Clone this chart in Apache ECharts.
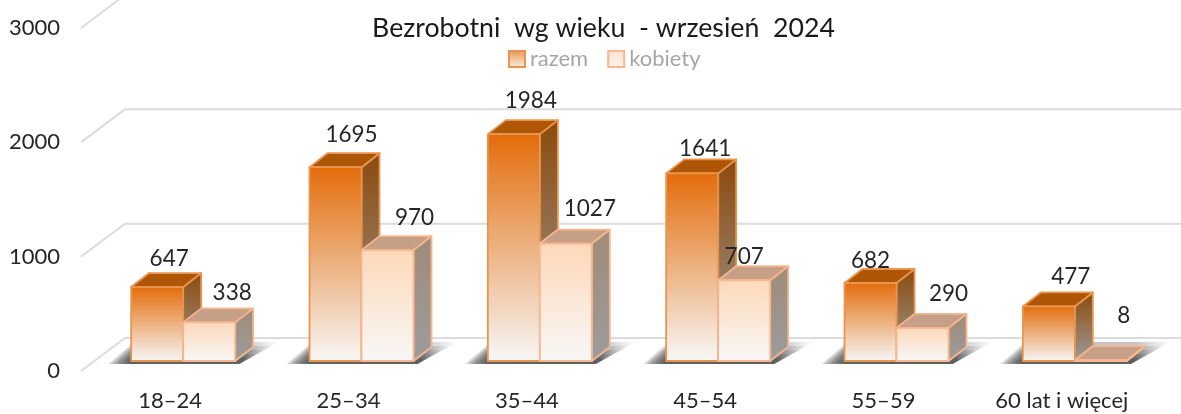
<!DOCTYPE html>
<html>
<head>
<meta charset="utf-8">
<style>html,body{margin:0;padding:0;background:#fff}#c{width:1181px;height:414px}</style>
<script src="https://cdn.jsdelivr.net/npm/echarts@6/dist/echarts.min.js"></script>
</head>
<body>
<div id="c"></div>
<script>
var categories = ['18–24', '25–34', '35–44', '45–54', '55–59', '60 lat i więcej'];
var razem = [647, 1695, 1984, 1641, 682, 477];
var kobiety = [338, 970, 1027, 707, 290, 8];
var yTicks = [0, 1000, 2000, 3000];

// label offset from the front-top centre of each bar [dx, dy]
var razemLabelNudge = [[12, -28], [16, -32], [17, -33], [13, -25], [0, -22], [22, -30]];
var kobietyLabelNudge = [[23, -30], [27, -32], [24, -35], [0, -23], [26, -34], [23, -44]];

var FONT = 'Lato, "Open Sans", sans-serif';
var PLANE = [13, -10], DEPTH = [18, -14], WALL = [44, -33], BAR_RATIO = 52 / 178.33;

function grad(a, b) {
  return new echarts.graphic.LinearGradient(0, 0, 0, 1, [{offset: 0, color: a}, {offset: 1, color: b}]);
}
var styleR = {border: '#E8954F', front: ['#E36C0A', '#F7F7F7'], side: ['#8C4A0C', '#9C9C9C'], top: '#AE5606'};
var styleK = {border: '#F7B690', front: ['#FDD8B8', '#F8F8F8'], side: ['#A18B78', '#9C9C9C'], top: '#C5A087'};

function barRenderer(st, idxSide, nudges) {
  return function (params, api) {
    var i = api.value(0), v = api.value(1);
    var band = api.size([1, 0])[0], w = band * BAR_RATIO;
    var top = api.coord([i, v]), base = api.coord([i, 0]);
    var x0 = top[0] + PLANE[0] + (idxSide === 0 ? -w : 0), x1 = x0 + w;
    var yT = top[1] + PLANE[1], yB = base[1] + PLANE[1];
    var dx = DEPTH[0], dy = DEPTH[1];
    var line = {stroke: st.border, lineWidth: 1.8, lineJoin: 'round'};
    var n = nudges[i];
    var children = [
      {type: 'polygon', shape: {points: [[x1, yT], [x1 + dx, yT + dy], [x1 + dx, yB + dy], [x1, yB]]},
        style: Object.assign({fill: grad(st.side[0], st.side[1])}, line)},
      {type: 'polygon', shape: {points: [[x0, yT], [x0 + dx, yT + dy], [x1 + dx, yT + dy], [x1, yT]]},
        style: Object.assign({fill: st.top}, line)},
      {type: 'rect', shape: {x: x0, y: yT, width: w, height: Math.max(yB - yT, 0.5)},
        style: Object.assign({fill: v > 50 ? grad(st.front[0], st.front[1]) : st.border}, line)},
      {type: 'text', style: {text: String(v), x: (x0 + x1) / 2 + n[0], y: yT + n[1], textAlign: 'center',
        textVerticalAlign: 'middle', fill: '#262626', font: '22.5px ' + FONT}}
    ];
    return {type: 'group', children: children};
  };
}

function shadowRenderer(params, api) {
  var i = api.value(0);
  var band = api.size([1, 0])[0], w = band * BAR_RATIO;
  var base = api.coord([i, 0]);
  var x0 = base[0] + PLANE[0] - w, x1 = base[0] + PLANE[0] + w;
  var yB = base[1] + PLANE[1] + 3;
  var layers = [22, 18, 14, 10, 6];
  var children = layers.map(function (H) {
    var L = 24, R = 42 * H / 22 + 2;
    var total = L + (x1 - x0) + R;
    var g = new echarts.graphic.LinearGradient(0, 0, 1, 0, [
      {offset: 0, color: 'rgba(70,70,70,0)'},
      {offset: L / total, color: 'rgba(70,70,70,0.32)'},
      {offset: (L + (x1 - x0) + 8) / total, color: 'rgba(70,70,70,0.32)'},
      {offset: 1, color: 'rgba(70,70,70,0)'}
    ]);
    return {type: 'polygon', shape: {points: [[x0 - L, yB], [x1 + 4, yB], [x1 + R, yB - H], [x0 + 4, yB - H]]}, style: {fill: g}};
  });
  return {type: 'group', children: children};
}

function wallRenderer(params, api) {
  var p = api.coord([0, api.value(1)]);
  var left = params.coordSys.x;
  return {type: 'polyline', shape: {points: [[left, p[1]], [left + WALL[0], p[1] + WALL[1]], [1181, p[1] + WALL[1]]]},
    style: {fill: 'none', stroke: '#DCDCDC', lineWidth: 2}};
}

var chart = echarts.init(document.getElementById('c'));
chart.setOption({
  animation: false,
  backgroundColor: '#fff',
  title: {
    text: 'Bezrobotni  wg wieku  - wrzesień  2024',
    left: 598.5, top: 10, textAlign: 'center',
    textStyle: {fontFamily: FONT, fontSize: 26.7, fontWeight: 'normal', color: '#1a1a1a'}
  },
  legend: {
    left: 508, top: 48, padding: 0, itemWidth: 16, itemHeight: 16, itemGap: 19,
    icon: 'rect',
    textStyle: {fontFamily: FONT, fontSize: 22, color: '#A6A6A6'},
    data: [
      {name: 'razem', itemStyle: {color: grad('#E8954F', '#FBEFE6'), borderColor: '#E8954F', borderWidth: 2}},
      {name: 'kobiety', itemStyle: {color: grad('#FDE3CF', '#FBF3EE'), borderColor: '#F7B690', borderWidth: 2}}
    ]
  },
  grid: {left: 81, top: 28, width: 1070, height: 343, containLabel: false},
  xAxis: {
    type: 'category', data: categories,
    axisLine: {show: false}, axisTick: {show: false},
    axisLabel: {fontFamily: FONT, fontSize: 22, color: '#262626', margin: 19, interval: 0}
  },
  yAxis: {
    type: 'value', min: 0, max: 3000, interval: 1000,
    axisLine: {show: false}, axisTick: {show: false}, splitLine: {show: false},
    axisLabel: {fontFamily: FONT, fontSize: 22, color: '#262626', margin: 21, formatter: function (v) { return String(v); }}
  },
  series: [
    {name: 'walls', type: 'custom', renderItem: wallRenderer, clip: false, z: 1, silent: true,
      data: yTicks.map(function (t) { return [0, t]; })},
    {name: 'shadow', type: 'custom', renderItem: shadowRenderer, clip: false, z: 2, silent: true,
      data: categories.map(function (c, i) { return [i, 0]; })},
    {name: 'razem', type: 'custom', renderItem: barRenderer(styleR, 0, razemLabelNudge), clip: false, z: 3,
      itemStyle: {color: '#E36C0A'},
      data: razem.map(function (v, i) { return [i, v]; })},
    {name: 'kobiety', type: 'custom', renderItem: barRenderer(styleK, 1, kobietyLabelNudge), clip: false, z: 4,
      itemStyle: {color: '#FDD8B8'},
      data: kobiety.map(function (v, i) { return [i, v]; })}
  ]
});
</script>
</body>
</html>
